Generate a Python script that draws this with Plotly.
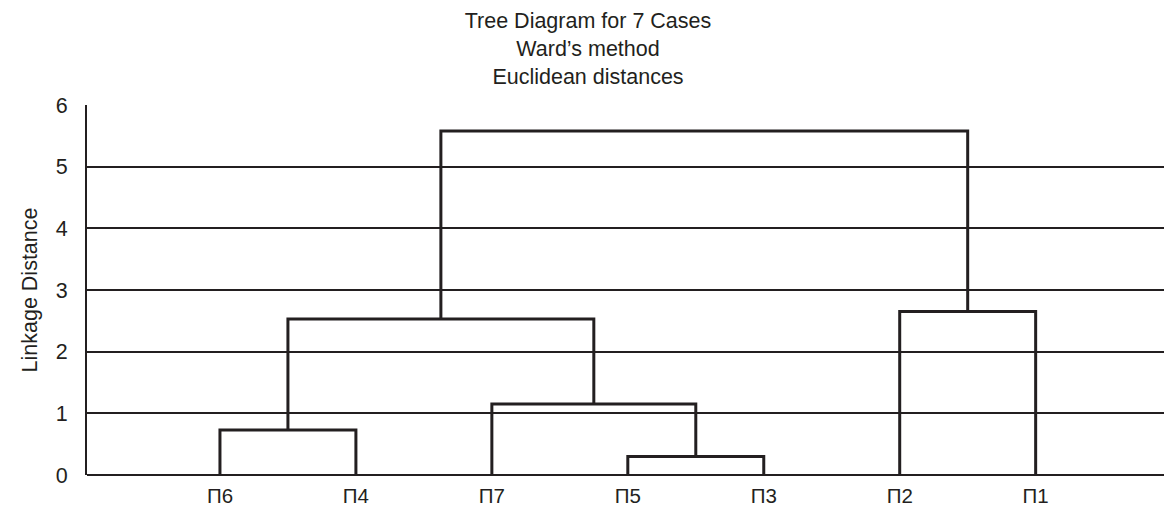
import plotly.graph_objects as go

# ---- data ----
leaf_labels = ["П6", "П4", "П7", "П5", "П3", "П2", "П1"]
# merges (scipy-style): node ids 0..6 are leaves, new nodes numbered from 7
merge_a = [0, 3, 2, 7, 5, 10]
merge_b = [1, 4, 8, 9, 6, 11]
merge_h = [0.73, 0.30, 1.15, 2.53, 2.65, 5.58]
y_ticks = [0, 1, 2, 3, 4, 5, 6]

title_lines = ["Tree Diagram for 7 Cases", "Ward’s method", "Euclidean distances"]
y_title = "Linkage Distance"

INK = "#231f20"
FONT = "Liberation Sans, Arial, Helvetica, sans-serif"

# ---- build dendrogram segments ----
leaf_pos = list(range(1, len(leaf_labels) + 1))
node_x = {i: float(p) for i, p in enumerate(leaf_pos)}
node_h = {i: 0.0 for i in range(len(leaf_labels))}

xs, ys = [], []
for k, (a, b, h) in enumerate(zip(merge_a, merge_b, merge_h)):
    nid = len(leaf_labels) + k
    xa, xb = node_x[a], node_x[b]
    xs += [xa, xa, xb, xb, None]
    ys += [node_h[a], h, h, node_h[b], None]
    node_x[nid] = (xa + xb) / 2
    node_h[nid] = h

fig = go.Figure()
fig.add_trace(go.Scatter(
    x=xs, y=ys, mode="lines",
    line=dict(color=INK, width=3),
    hoverinfo="skip", showlegend=False,
))

fig.update_layout(
    width=1164, height=507,
    margin=dict(l=87, r=0, t=105, b=32, pad=0),
    paper_bgcolor="white", plot_bgcolor="white",
    font=dict(family=FONT, color=INK, size=21),
    title=dict(
        text="<br>".join(title_lines),
        x=588 / 1164, xref="container", xanchor="center",
        y=1 - 28 / 507, yref="container", yanchor="top",
        font=dict(family=FONT, size=21.5, color=INK),
    ),
    showlegend=False,
)

fig.update_xaxes(
    range=[0.022, 7.944],
    tickmode="array", tickvals=leaf_pos, ticktext=leaf_labels,
    showgrid=False, zeroline=False, showline=False,
    ticks="", ticklabelstandoff=6,
    tickfont=dict(size=20.5, color=INK, family=FONT),
    fixedrange=True,
)
fig.update_yaxes(
    range=[0, 6],
    tickmode="array", tickvals=y_ticks,
    showgrid=True, gridcolor=INK, gridwidth=1.6,
    zeroline=True, zerolinecolor=INK, zerolinewidth=2.2,
    showline=True, linecolor=INK, linewidth=2,
    ticks="", ticklabelstandoff=13,
    tickfont=dict(size=21.5, color=INK, family=FONT),
    title=dict(text=y_title, font=dict(size=21.5, color=INK, family=FONT), standoff=12),
    fixedrange=True,
)

fig.write_html("out.html")
